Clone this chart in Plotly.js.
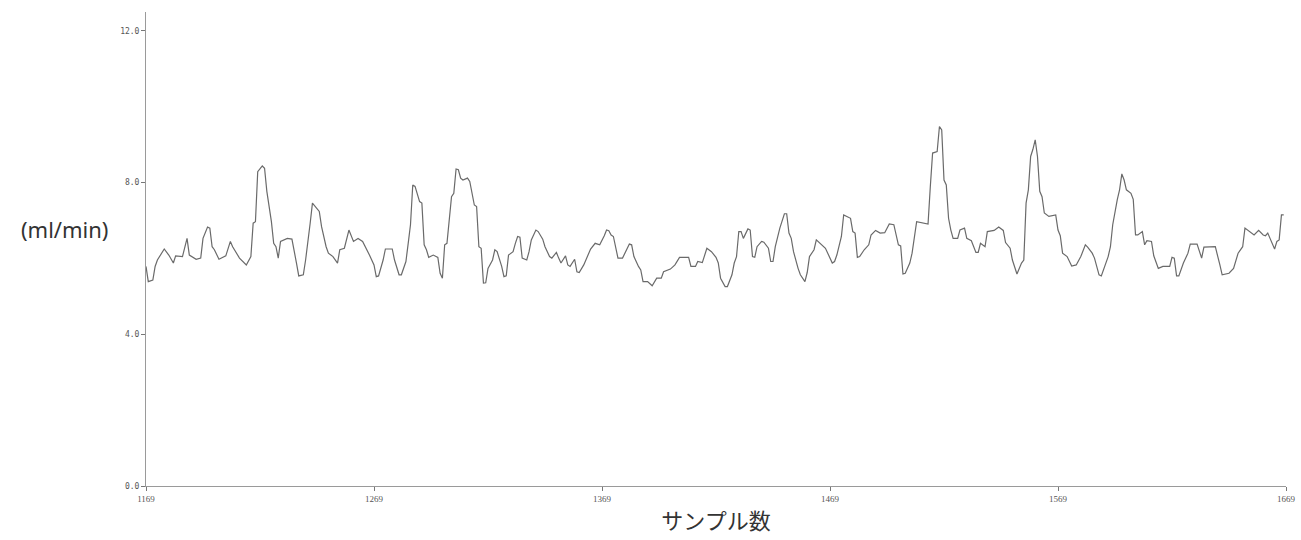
<!DOCTYPE html>
<html>
<head>
<meta charset="utf-8">
<script src="https://cdn.plot.ly/plotly-3.0.1.min.js"></script>
<style>html,body{margin:0;padding:0;background:#fff;}#chart{width:1301px;height:540px;}</style>
</head>
<body>
<div id="chart"></div>
<script>
// sample index (サンプル数)
const samples = [
1169,1170,1172,1173,1174,1177,1179,1181,1182,1185,1187,1188,1191,1193,1194,1196,1197,1198,1199,1201,
1204,1206,1207,1210,1213,1215,1216,1217,1218,1220,1221,1222,1224,1225,1226,1227,1228,1231,1233,1234,
1235,1236,1238,1239,1240,1241,1242,1245,1246,1248,1249,1251,1253,1254,1256,1258,1260,1262,1264,1266,
1267,1269,1270,1271,1273,1274,1277,1278,1280,1281,1283,1284,1285,1286,1287,1289,1290,1291,1292,1293,
1295,1297,1298,1299,1300,1301,1303,1304,1305,1306,1307,1308,1310,1311,1313,1314,1315,1316,1317,1318,
1319,1321,1322,1323,1325,1326,1327,1328,1330,1331,1332,1333,1334,1336,1337,1338,1340,1341,1343,1344,
1346,1347,1349,1350,1351,1353,1354,1355,1357,1358,1359,1361,1364,1366,1368,1370,1371,1372,1373,1374,
1375,1376,1378,1379,1381,1382,1383,1385,1386,1387,1389,1391,1393,1395,1396,1399,1401,1403,1407,1408,
1410,1411,1413,1415,1417,1419,1420,1421,1423,1424,1426,1427,1428,1429,1430,1431,1433,1434,1435,1436,
1437,1439,1440,1442,1443,1444,1445,1447,1449,1450,1451,1452,1453,1455,1456,1458,1459,1460,1462,1463,
1465,1467,1470,1471,1472,1473,1474,1475,1478,1479,1480,1481,1482,1484,1486,1487,1489,1491,1493,1495,
1497,1499,1500,1501,1502,1504,1505,1507,1509,1512,1513,1514,1516,1517,1518,1519,1520,1521,1522,1523,
1525,1526,1528,1529,1531,1533,1534,1535,1537,1538,1541,1543,1545,1546,1548,1549,1551,1553,1554,1555,
1556,1557,1558,1559,1560,1561,1562,1563,1565,1568,1569,1570,1571,1573,1575,1577,1579,1581,1582,1584,
1585,1587,1588,1590,1591,1592,1593,1595,1596,1597,1598,1599,1601,1602,1603,1604,1606,1607,1608,1610,
1611,1613,1615,1618,1619,1620,1621,1622,1624,1626,1627,1630,1632,1633,1636,1638,1640,1641,1644,1646,
1648,1649,1650,1651,1653,1655,1657,1659,1660,1661,1662,1664,1665,1666,1667,1668
];
// flow rate (ml/min)
const flow = [
5.79,5.39,5.43,5.79,5.96,6.25,6.09,5.88,6.07,6.05,6.53,6.09,5.98,6.01,6.53,6.83,6.80,6.31,6.23,5.98,
6.07,6.45,6.31,6.01,5.83,6.05,6.93,6.97,8.29,8.44,8.38,7.77,6.97,6.40,6.31,6.01,6.45,6.53,6.51,6.23,
5.88,5.54,5.57,5.96,6.53,6.93,7.46,7.24,6.84,6.31,6.14,6.05,5.88,6.23,6.27,6.75,6.45,6.53,6.45,6.18,
6.09,5.83,5.52,5.54,5.96,6.25,6.25,5.96,5.57,5.57,5.92,6.40,6.89,7.94,7.90,7.50,7.46,6.36,6.23,6.03,
6.09,6.03,5.61,5.48,6.36,6.40,7.63,7.72,8.36,8.34,8.12,8.07,8.12,8.03,7.41,7.37,6.31,6.27,5.35,5.36,
5.74,5.96,6.23,6.18,5.79,5.52,5.54,6.09,6.18,6.40,6.58,6.56,6.01,5.96,6.18,6.49,6.75,6.71,6.51,6.31,
6.05,6.01,6.16,6.01,5.88,6.07,5.83,5.79,5.98,5.65,5.63,5.83,6.25,6.40,6.36,6.60,6.75,6.73,6.62,6.58,
6.31,6.01,6.01,6.14,6.38,6.36,6.05,5.79,5.70,5.39,5.39,5.28,5.48,5.48,5.65,5.72,5.83,6.03,6.03,5.79,
5.79,5.92,5.89,6.27,6.18,6.03,5.88,5.48,5.26,5.26,5.57,5.88,6.05,6.71,6.71,6.53,6.78,6.75,6.05,6.03,
6.31,6.45,6.43,6.27,5.92,5.92,6.31,6.80,7.18,7.18,6.67,6.53,6.18,5.74,5.57,5.39,5.63,6.05,6.23,6.49,
6.38,6.27,5.88,5.92,6.09,6.33,6.58,7.15,7.06,6.71,6.67,6.03,6.05,6.23,6.36,6.62,6.74,6.67,6.68,6.91,
6.89,6.36,6.33,5.59,5.61,5.88,6.14,6.97,6.95,6.91,7.90,8.78,8.82,9.48,9.39,8.07,7.94,7.06,6.75,6.53,
6.53,6.75,6.80,6.53,6.47,6.16,6.16,6.40,6.31,6.71,6.74,6.83,6.74,6.42,6.27,5.96,5.59,5.88,5.96,7.46,
7.81,8.69,8.88,9.13,8.69,7.77,7.63,7.20,7.11,7.15,6.75,6.60,6.14,6.05,5.80,5.83,6.05,6.36,6.30,6.14,
6.01,5.57,5.54,5.88,6.05,6.31,6.89,7.55,7.81,8.23,8.07,7.81,7.72,7.56,6.62,6.62,6.71,6.36,6.47,6.45,
6.07,5.74,5.79,5.79,6.03,6.01,5.54,5.54,5.88,6.14,6.38,6.38,6.01,6.30,6.31,6.31,5.83,5.57,5.61,5.74,
6.14,6.23,6.31,6.80,6.71,6.62,6.74,6.62,6.60,6.67,6.53,6.25,6.45,6.49,7.15,7.15
];
const xTicks = [1169, 1269, 1369, 1469, 1569, 1669];
const yTicks = [0, 4, 8, 12];
const yTickText = ['0.0', '4.0', '8.0', '12.0'];

const trace = {
  x: samples, y: flow, type: 'scatter', mode: 'lines',
  line: {color: '#6a6a6a', width: 1.2},
  hoverinfo: 'skip'
};

const layout = {
  width: 1301, height: 540,
  margin: {l: 146, r: 15, t: 12, b: 54},
  paper_bgcolor: '#ffffff', plot_bgcolor: '#ffffff',
  showlegend: false,
  xaxis: {
    range: [1169, 1669], tickmode: 'array', tickvals: xTicks,
    ticktext: xTicks.map(String),
    showgrid: false, zeroline: false,
    showline: true, linecolor: '#9a9a9a', linewidth: 1,
    ticks: 'outside', ticklen: 4, tickcolor: '#777', tickwidth: 1,
    tickfont: {family: 'Liberation Serif', size: 9, color: '#555'},
    title: {text: 'サンプル数', font: {family: 'Noto Sans CJK JP', size: 22, color: '#333'}, standoff: 10},
    automargin: false
  },
  yaxis: {
    range: [0, 12.5], tickmode: 'array', tickvals: yTicks, ticktext: yTickText,
    showgrid: false, zeroline: false,
    showline: true, linecolor: '#9a9a9a', linewidth: 1,
    ticks: 'outside', ticklen: 4, tickcolor: '#777', tickwidth: 1,
    tickfont: {family: 'DejaVu Sans Mono', size: 8, color: '#555'},
    automargin: false
  },
  annotations: [{
    text: '(ml/min)', xref: 'paper', yref: 'paper',
    x: -0.032, y: 0.542, xanchor: 'right', yanchor: 'middle', showarrow: false,
    font: {family: 'Noto Sans', size: 22, color: '#333'}
  }]
};

Plotly.newPlot('chart', [trace], layout, {displayModeBar: false, staticPlot: true});
</script>
</body>
</html>
